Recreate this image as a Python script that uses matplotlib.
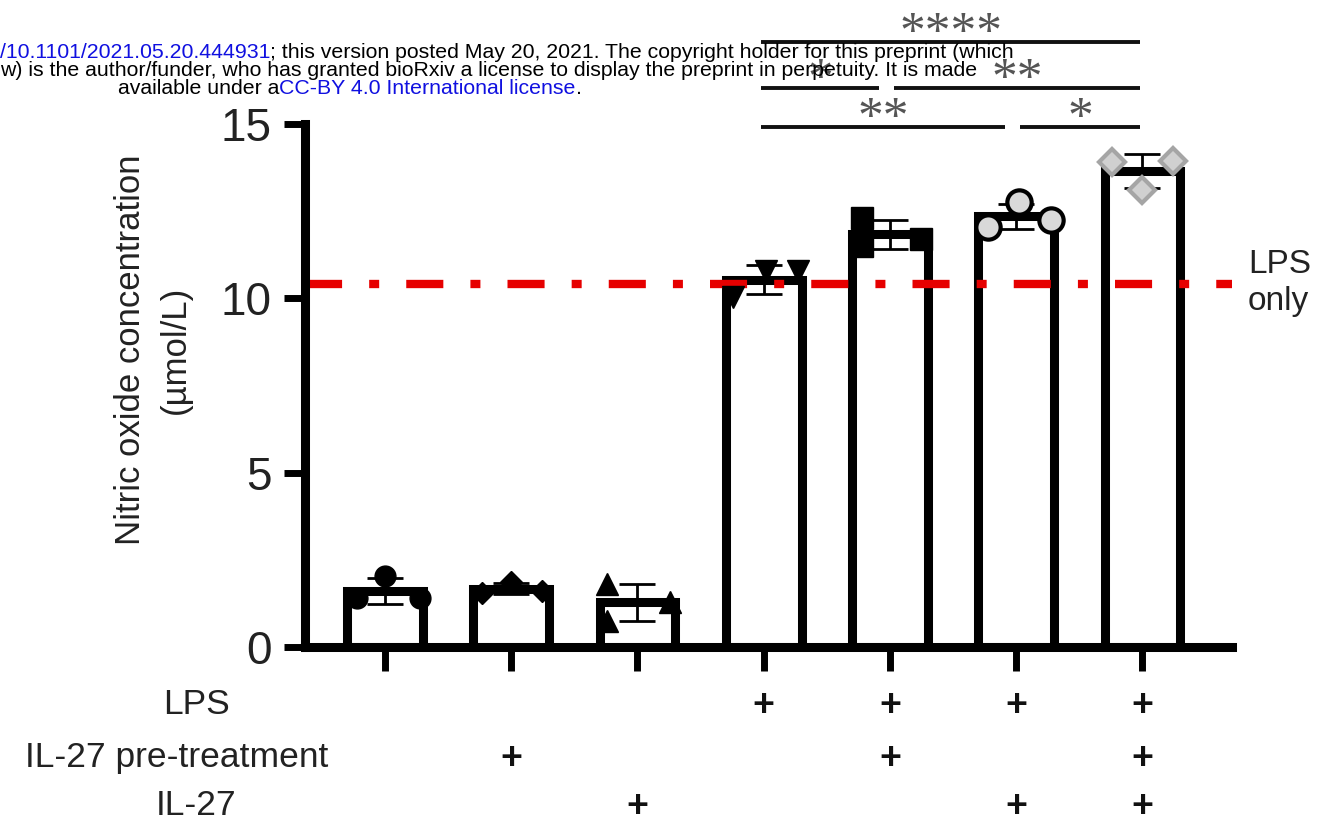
import numpy as np
import matplotlib
matplotlib.use("Agg")
import matplotlib.pyplot as plt
from matplotlib.transforms import blended_transform_factory

plt.rcParams['font.family'] = ['Liberation Sans', 'DejaVu Sans']

# treatment matrix (1 = "+")
lps = [0, 0, 0, 1, 1, 1, 1]
il27_pre = [0, 1, 0, 0, 1, 0, 1]
il27 = [0, 0, 1, 0, 0, 1, 1]
row_labels = ["LPS", "IL-27 pre-treatment", "IL-27"]

# replicate values per group (umol/L)
reps = [[1.40, 2.05, 1.40],
        [1.55, 1.85, 1.60],
        [1.80, 0.75, 1.30],
        [10.05, 10.77, 10.77],
        [12.30, 11.50, 11.70],
        [12.05, 12.75, 12.25],
        [13.90, 13.10, 13.95]]

lps_only = 10.42

# significance comparisons: (group a, group b, label, row)
sig = [(3, 6, "****", 0),
       (3, 4, "*", 1),
       (4, 6, "**", 1),
       (3, 5, "**", 2),
       (5, 6, "*", 2)]

W, H = 1317, 825
fig = plt.figure(figsize=(W / 100, H / 100), dpi=100)
ax = fig.add_axes([305 / W, (H - 647) / H, (1232 - 305) / W, (647 - 124) / H])

def px(x, y):
    return x / W, 1 - y / H

x = np.arange(len(reps))
means = [np.mean(r) for r in reps]
sds = [np.std(r, ddof=1) for r in reps]

ax.bar(x, means, width=0.6, color='white', edgecolor='black', linewidth=6.5, zorder=2)
ax.errorbar(x, means, yerr=sds, fmt='none', ecolor='black', elinewidth=2,
            capsize=13, capthick=2, zorder=3)

# point layout / marker styles
jit = [[-0.22, 0, 0.28], [-0.23, 0, 0.24], [-0.24, -0.24, 0.26],
       [-0.24, 0.02, 0.27], [-0.22, -0.22, 0.25], [-0.22, 0.02, 0.28],
       [-0.24, 0, 0.24]]
styles = [dict(marker='o', ms=15, mfc='black', mec='black', mew=1),
          dict(marker='D', ms=11, mfc='black', mec='black', mew=1),
          dict(marker='^', ms=16, mfc='black', mec='black', mew=1),
          dict(marker='v', ms=16, mfc='black', mec='black', mew=1),
          dict(marker='s', ms=16, mfc='black', mec='black', mew=1),
          dict(marker='o', ms=17.5, mfc='#d9d9d9', mec='black', mew=3),
          dict(marker='D', ms=13, mfc='#d0d0d0', mec='#a5a5a5', mew=3)]
for i, r in enumerate(reps):
    ax.plot(i + np.array(jit[i]), r, linestyle='none', zorder=5, **styles[i])

ax.axhline(lps_only, color='#e60000', lw=6, linestyle=(0, (4.45, 3.25, 1.2, 3.25)),
           dash_capstyle='butt', zorder=4, clip_on=False)

ax.set_xlim(-0.634, 6.71)
ax.set_ylim(0, 15)
ax.set_yticks([0, 5, 10, 15])
ax.set_xticks(x)
ax.set_xticklabels([])
for s in ['top', 'right']:
    ax.spines[s].set_visible(False)
for s in ['left', 'bottom']:
    ax.spines[s].set_linewidth(6.5)
    ax.spines[s].set_zorder(6)
ax.tick_params(axis='y', length=15, width=5, labelsize=33, pad=9, labelcolor='#222222')
ax.tick_params(axis='x', length=17, width=5)

fig.text(*px(153, 350), "Nitric oxide concentration\n(µmol/L)", rotation=90,
         ha='center', va='center', fontsize=25, color='#222222', linespacing=1.45,
         multialignment='center')

fig.text(*px(1248, 283), "LPS\nonly", ha='left', va='center', fontsize=24,
         color='#222222', linespacing=1.25)

# treatment table
tr = blended_transform_factory(ax.transData, fig.transFigure)
row_base = [714, 767, 815]
row_cx = [197, 177, 196]
for lab, yb, cx, flags in zip(row_labels, row_base, row_cx, [lps, il27_pre, il27]):
    fig.text(*px(cx, yb), lab, ha='center', va='baseline', fontsize=25.5, color='#222222')
    for i, f in enumerate(flags):
        if f:
            ax.text(i, 1 - (yb + 2) / H, "+", transform=tr, ha='center', va='baseline',
                    fontsize=27, fontweight='bold', color='#111111')

# significance brackets
row_line = [17.36, 16.03, 14.91]
starts_at = {(r, a) for a, b, l, r in sig}
ends_at = {(r, b) for a, b, l, r in sig}
for a, b, lab, row in sig:
    x0 = a + 0.03 if (row, a) in ends_at else a - 0.02
    x1 = b - 0.09 if (row, b) in starts_at else b - 0.02
    ax.plot([x0, x1], [row_line[row]] * 2, color='#111111', lw=2.8,
            solid_capstyle='butt', clip_on=False, zorder=6)
    ax.text((x0 + x1) / 2, row_line[row] - 0.12, lab, ha='center', va='baseline',
            fontsize=37, family='Liberation Serif', color='#555555', clip_on=False)

# bioRxiv header
fig.canvas.draw()
renderer = fig.canvas.get_renderer()
blue = '#1010e0'
header = [[("/10.1101/2021.05.20.444931", blue),
           ("; this version posted May 20, 2021. The copyright holder for this preprint (which", 'black')],
          [("w) is the author/funder, who has granted bioRxiv a license to display the preprint in perpetuity. It is made", 'black')],
          [("available under a", 'black'), ("CC-BY 4.0 International license", blue), (".", 'black')]]
starts = [0, 0, 118]
bases = [58, 76, 94]
for parts, x0, yb in zip(header, starts, bases):
    xx = x0
    for txt, col in parts:
        t = fig.text(*px(xx, yb), txt, ha='left', va='baseline', fontsize=15.3,
                     color=col, zorder=10)
        bb = t.get_window_extent(renderer)
        xx += bb.width

fig.savefig("out.png", dpi=100)
